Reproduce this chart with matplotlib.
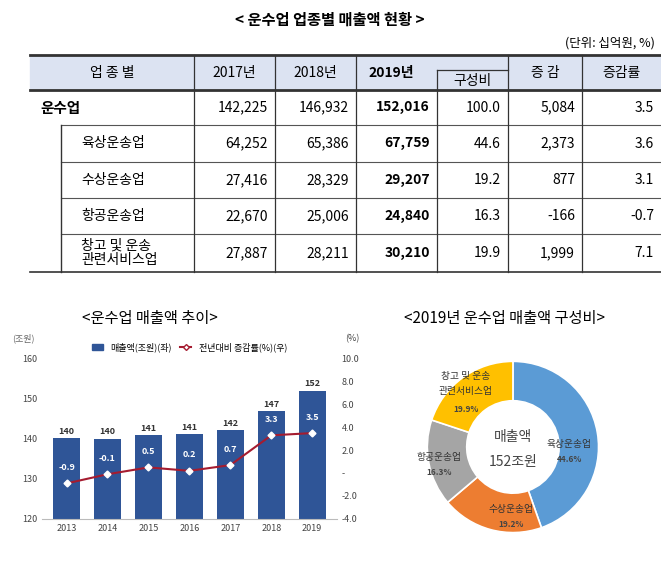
import matplotlib.pyplot as plt
from matplotlib.lines import Line2D
from matplotlib.patches import Patch, Rectangle

plt.rcParams['font.family'] = ['Noto Sans CJK KR', 'DejaVu Sans']

# table data
col_headers = ["업 종 별", "2017년", "2018년", "2019년", "구성비", "증 감", "증감률"]
row_names = ["운수업", "육상운송업", "수상운송업", "항공운송업", "창고 및 운송\n관련서비스업"]
sales_2017 = ["142,225", "64,252", "27,416", "22,670", "27,887"]
sales_2018 = ["146,932", "65,386", "28,329", "25,006", "28,211"]
sales_2019 = ["152,016", "67,759", "29,207", "24,840", "30,210"]
shares = ["100.0", "44.6", "19.2", "16.3", "19.9"]
changes = ["5,084", "2,373", "877", "-166", "1,999"]
change_rates = ["3.5", "3.6", "3.1", "-0.7", "7.1"]

# bar + line chart data
years = ["2013", "2014", "2015", "2016", "2017", "2018", "2019"]
sales_trillion = [140.2, 140.0, 140.9, 141.2, 142.2, 146.9, 152.0]
sales_labels = ["140", "140", "141", "141", "142", "147", "152"]
growth_pct = [-0.9, -0.1, 0.5, 0.2, 0.7, 3.3, 3.5]

# donut data
seg_names = ["육상운송업", "수상운송업", "항공운송업", "창고 및 운송\n관련서비스업"]
seg_shares = [44.6, 19.2, 16.3, 19.9]
seg_colors = ["#5B9BD5", "#ED7D31", "#A5A5A5", "#FFC000"]

fig = plt.figure(figsize=(6.61, 5.64), dpi=100)

# ---- table drawn in pixel coordinates ----
tx = fig.add_axes([0, 0, 1, 1])
tx.set_xlim(0, 661)
tx.set_ylim(564, 0)
tx.axis("off")

tx.text(330, 20, "< 운수업 업종별 매출액 현황 >", ha="center", va="center", fontsize=11, fontweight="bold")
tx.text(655, 43, "(단위: 십억원, %)", ha="right", va="center", fontsize=9)

cols = [30, 194, 275, 356, 437, 508, 582, 661]
rows = [90, 125, 162, 198, 234, 272]
head_top = 55
tx.add_patch(Rectangle((30, head_top), 631, rows[0] - head_top, color="#DCE3F2", zorder=0))
tx.plot([30, 661], [head_top, head_top], color="#333333", lw=2)
tx.plot([30, 661], [rows[0], rows[0]], color="#333333", lw=2)
tx.plot([30, 661], [rows[-1], rows[-1]], color="#333333", lw=1.2)
for y in rows[1:-1]:
    tx.plot([61, 661], [y, y], color="#555555", lw=0.8)
tx.plot([61, 61], [rows[1], rows[-1]], color="#333333", lw=1)
for x in cols[1:-1]:
    if x == 437:
        tx.plot([x, x], [rows[0] - 20, rows[-1]], color="#333333", lw=0.9)
    else:
        tx.plot([x, x], [head_top, rows[-1]], color="#333333", lw=0.9)
# sub box for 구성비
tx.plot([437, 508], [rows[0] - 20, rows[0] - 20], color="#333333", lw=0.9)

hy = (head_top + rows[0]) / 2
for i, h in enumerate(col_headers):
    if i == 4:
        tx.text((cols[4] + cols[5]) / 2, rows[0] - 9, h, ha="center", va="center", fontsize=10)
        continue
    xc = (cols[i] + cols[i + 1]) / 2
    if i == 3:
        xc = cols[3] + 35
    tx.text(xc, hy, h, ha="center", va="center", fontsize=10,
            fontweight="bold" if i == 3 else "normal")

for r in range(len(row_names)):
    yc = (rows[r] + rows[r + 1]) / 2
    if r == 0:
        tx.text(40, yc, row_names[r], ha="left", va="center", fontsize=10.5, fontweight="bold")
    else:
        tx.text(81, yc, row_names[r], ha="left", va="center", fontsize=10, linespacing=1.0)
    vals = [sales_2017[r], sales_2018[r], sales_2019[r], shares[r], changes[r], change_rates[r]]
    for j, v in enumerate(vals):
        tx.text(cols[j + 2] - 7, yc, v, ha="right", va="center", fontsize=10,
                fontweight="bold" if j == 2 else "normal")

# ---- bar + line chart ----
tx.text(150, 318, "<운수업 매출액 추이>", ha="center", va="center", fontsize=11)
ax = fig.add_axes([0.0635, 0.080, 0.446, 0.284])
xs = range(len(years))
ax.bar(xs, sales_trillion, width=0.66, color="#2F5597", zorder=2)
for x, v, lab in zip(xs, sales_trillion, sales_labels):
    ax.text(x, v + 0.6, lab, ha="center", va="bottom", fontsize=6.5, fontweight="bold", color="#333333")
ax.set_ylim(120, 160)
ax.set_yticks([120, 130, 140, 150, 160])
ax.set_xlim(-0.6, 6.6)
ax.set_xticks(list(xs))
ax.set_xticklabels(years)
ax.tick_params(labelsize=6.5, length=0, colors="#444444")
for s in ["top", "right", "left"]:
    ax.spines[s].set_visible(False)
ax.spines["bottom"].set_color("#BBBBBB")
ax.text(-0.1, 1.11, "(조원)", transform=ax.transAxes, fontsize=6.5, color="#666666")

ax2 = ax.twinx()
ax2.plot(list(xs), growth_pct, color="#A51C30", lw=1.5, marker="D", markersize=3.5,
         markerfacecolor="white", markeredgecolor="white", zorder=3)
for x, g in zip(xs, growth_pct):
    ax2.text(x, g + 1.0, f"{g:.1f}", ha="center", va="bottom", fontsize=6.5, fontweight="bold", color="white")
ax2.set_ylim(-4, 10)
ax2.set_yticks([-4, -2, 0, 2, 4, 6, 8, 10])
ax2.set_yticklabels(["-4.0", "-2.0", "-", "2.0", "4.0", "6.0", "8.0", "10.0"])
ax2.tick_params(labelsize=6.5, length=0, colors="#444444")
for s in ["top", "right", "left", "bottom"]:
    ax2.spines[s].set_visible(False)
ax2.text(1.03, 1.11, "(%)", transform=ax.transAxes, fontsize=6.5, color="#444444")
handles = [Patch(color="#2F5597", label="매출액(조원)(좌)"),
           Line2D([0], [0], color="#A51C30", marker="D", markersize=3, markerfacecolor="white",
                  label="전년대비 증감률(%)(우)")]
ax.legend(handles=handles, loc="lower center", bbox_to_anchor=(0.5, 1.02), ncol=2, frameon=False,
          fontsize=6.5, handlelength=1.2, columnspacing=1.0, borderaxespad=0)

# ---- donut ----
tx.text(505, 318, "<2019년 운수업 매출액 구성비>", ha="center", va="center", fontsize=11)
dx = fig.add_axes([0.64, 0.048, 0.272, 0.319])
wedges, _ = dx.pie(seg_shares, colors=seg_colors, startangle=90, counterclock=False,
                   radius=1.0, wedgeprops=dict(width=0.46, edgecolor="white", linewidth=1.2))
label_pos = [(0.66, -0.05), (-0.02, -0.8), (-0.86, -0.2), (-0.55, 0.66)]
for (lx, ly), name, sh in zip(label_pos, seg_names, seg_shares):
    dx.text(lx, ly + 0.08, name, ha="center", va="center", fontsize=7, color="#333333", linespacing=1.6)
    dx.text(lx, ly - (0.22 if "\n" in name else 0.1), f"{sh}%", ha="center", va="center",
            fontsize=6, fontweight="bold", color="#444444")
dx.text(0, 0.12, "매출액", ha="center", va="center", fontsize=10, color="#444444")
dx.text(0, -0.18, "152조원", ha="center", va="center", fontsize=10, color="#444444")
dx.set_aspect("equal")
dx.set_xlim(-1.05, 1.05)
dx.set_ylim(-1.05, 1.05)

fig.savefig("out.png", dpi=100)
